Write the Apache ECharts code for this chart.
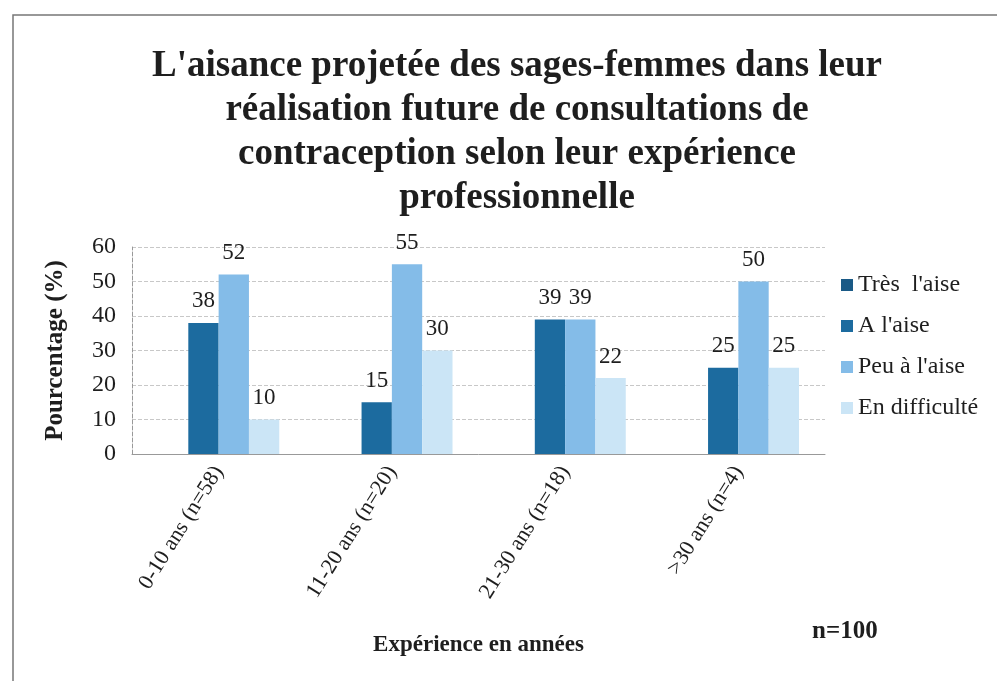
<!DOCTYPE html>
<html>
<head>
<meta charset="utf-8">
<script src="https://cdn.jsdelivr.net/npm/echarts@6/dist/echarts.min.js"></script>
<style>
  html, body { margin: 0; padding: 0; background: #fff; }
  #chart { width: 997px; height: 681px; }
</style>
</head>
<body>
<div id="chart"></div>
<script>
var categories = ['0-10 ans (n=58)', '11-20 ans (n=20)', '21-30 ans (n=18)', '>30 ans (n=4)']
var seriesNames = ['Très  l\'aise', 'A l\'aise', 'Peu à l\'aise', 'En difficulté']
var tresAise = [0, 0, 0, 0]
var aAise = [38, 15, 39, 25]
var peuAise = [52, 55, 39, 50]
var difficulte = [10, 30, 22, 25]
var yTicks = [0, 10, 20, 30, 40, 50, 60]

var colors = ['#1a5a86', '#1c6b9f', '#84bce8', '#cbe5f6']
var serif = 'Liberation Serif'

function initChart() {
  let chart = echarts.init(document.getElementById('chart'))

  function makeSeries(name, data, i) {
    return {
      name: name,
      type: 'bar',
      data: data,
      barGap: '0%',
      barCategoryGap: '30%',
      itemStyle: { color: colors[i] },
      label: {
        show: true,
        position: 'top',
        distance: 10,
        color: '#1e1e1e',
        fontFamily: serif,
        fontSize: 23,
        formatter: function (p) {
          return p.value === 0 ? '' : p.value
        },
      },
    }
  }

  var option = {
    backgroundColor: '#fff',
    title: {
      text: 'L\'aisance projetée des sages-femmes dans leur\nréalisation future de consultations de\ncontraception selon leur expérience\nprofessionnelle',
      left: 512,
      textAlign: 'center',
      top: 39,
      textStyle: {
        fontFamily: serif,
        fontWeight: 'bold',
        fontSize: 37,
        lineHeight: 44,
        color: '#1e1e1e',
      },
    },
    legend: {
      orient: 'vertical',
      left: 836,
      top: 268,
      itemWidth: 12,
      itemHeight: 12,
      itemGap: 17,
      icon: 'rect',
      data: seriesNames,
      textStyle: { fontFamily: serif, fontSize: 24, color: '#1e1e1e' },
    },
    grid: {
      left: 132,
      right: 172,
      top: 247,
      bottom: 227,
    },
    xAxis: {
      type: 'category',
      data: categories,
      name: 'Expérience en années',
      nameLocation: 'middle',
      nameGap: 180,
      nameTextStyle: { fontFamily: serif, fontWeight: 'bold', fontSize: 23, color: '#1e1e1e' },
      axisTick: { show: false },
      axisLine: { lineStyle: { color: '#999' } },
      axisLabel: {
        rotate: 58,
        margin: 14,
        fontFamily: serif,
        fontSize: 22,
        color: '#1e1e1e',
      },
    },
    yAxis: {
      type: 'value',
      min: yTicks[0],
      max: yTicks[yTicks.length - 1],
      interval: 10,
      name: 'Pourcentage (%)',
      nameLocation: 'middle',
      nameGap: 64,
      nameTextStyle: { fontFamily: serif, fontWeight: 'bold', fontSize: 25, color: '#1e1e1e' },
      axisLine: { show: true, lineStyle: { color: '#999', type: 'dashed' } },
      axisTick: { show: false },
      axisLabel: { fontFamily: serif, fontSize: 24, color: '#1e1e1e', margin: 16 },
      splitLine: { lineStyle: { color: '#c8c8c8', type: 'dashed' } },
    },
    graphic: [
      {
        type: 'rect',
        shape: { x: 13, y: 15, width: 1000, height: 700 },
        style: { fill: 'none', stroke: '#777', lineWidth: 1.5 },
      },
      {
        type: 'text',
        left: 812,
        top: 619,
        style: { text: 'n=100', fontFamily: serif, fontWeight: 'bold', fontSize: 25, fill: '#1e1e1e' },
      },
    ],
    series: [
      makeSeries(seriesNames[0], tresAise, 0),
      makeSeries(seriesNames[1], aAise, 1),
      makeSeries(seriesNames[2], peuAise, 2),
      makeSeries(seriesNames[3], difficulte, 3),
    ],
  }
  chart.setOption(option)

  window.addEventListener('resize', function () {
    chart.resize()
  })
}

initChart()
</script>
</body>
</html>
